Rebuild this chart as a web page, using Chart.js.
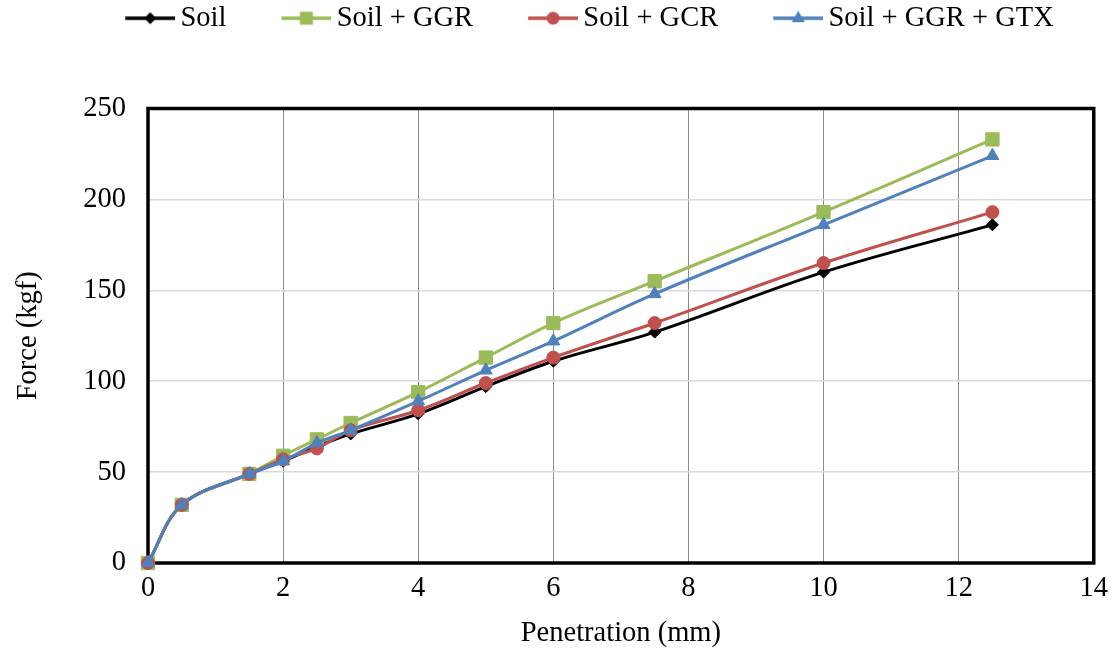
<!DOCTYPE html>
<html>
<head>
<meta charset="utf-8">
<script src="https://cdn.jsdelivr.net/npm/chart.js@4"></script>
<style>
  html, body { margin: 0; padding: 0; background: #fff; }
  #wrap { width: 1116px; height: 654px; }
</style>
</head>
<body>
<div id="wrap"><canvas id="cbr"></canvas></div>
<script>
// Penetration (mm) and force (kgf)
const penetration = [0, 0.5, 1.5, 2, 2.5, 3, 4, 5, 6, 7.5, 10, 12.5];
const soil       = [0, 32, 49, 56, 64, 71, 82, 97, 111, 127, 160, 186];
const soilGGR    = [0, 32, 49, 59, 68, 77, 94, 113, 132, 155, 193, 233];
const soilGCR    = [0, 32, 49, 57, 63, 73, 84, 99, 113, 132, 165, 193];
const soilGGRGTX = [0, 32, 49, 56, 66, 73, 89, 106, 122, 148, 186, 224];
const seriesNames = ['Soil', 'Soil + GGR', 'Soil + GCR', 'Soil + GGR + GTX'];

const FONT = { family: '"Liberation Serif", "Times New Roman", serif', size: 28.5 };

function pts(ys) {
  return penetration.map((x, i) => ({ x: x, y: ys[i] }));
}

// legend key: short line with the marker in the middle
function legendKey(color, style) {
  const c = document.createElement('canvas');
  c.width = 110; c.height = 20;
  const g = c.getContext('2d');
  const x0 = 60, x1 = 110, cx = 85, cy = 10;
  g.strokeStyle = color; g.fillStyle = color; g.lineWidth = 3.5;
  g.beginPath(); g.moveTo(x0, cy); g.lineTo(x1, cy); g.stroke();
  g.beginPath();
  if (style === 'rectRot') {
    g.moveTo(cx - 6, cy); g.lineTo(cx, cy - 6); g.lineTo(cx + 6, cy); g.lineTo(cx, cy + 6);
  } else if (style === 'rect') {
    g.rect(cx - 6.5, cy - 6.5, 13, 13);
  } else if (style === 'circle') {
    g.arc(cx, cy, 6.5, 0, Math.PI * 2);
  } else {
    g.moveTo(cx, cy - 7.5); g.lineTo(cx + 6.5, cy + 4); g.lineTo(cx - 6.5, cy + 4);
  }
  g.closePath(); g.fill();
  return c;
}

const colors = ['#000000', '#9BBB59', '#C0504D', '#4F81BD'];
const styles = ['rectRot', 'rect', 'circle', 'triangle'];
const radii = [6, 9.4, 6.5, 7.5];
const values = [soil, soilGGR, soilGCR, soilGGRGTX];
const keys = colors.map((c, i) => legendKey(c, styles[i]));

const datasets = values.map((v, i) => ({
  label: seriesNames[i],
  data: pts(v),
  borderColor: colors[i],
  backgroundColor: colors[i],
  borderWidth: 3,
  pointStyle: styles[i],
  pointRadius: radii[i],
  pointBorderWidth: 1,
  pointBorderColor: colors[i],
  pointBackgroundColor: colors[i],
  tension: 0.35,
  clip: false,
  order: 4 - i
}));

const frame = {
  id: 'frame',
  beforeInit(chart) {
    const fit = chart.legend.fit;
    chart.legend.fit = function () { fit.call(this); this.height += 66; };
  },
  beforeDatasetsDraw(chart) {
    const a = chart.chartArea, ctx = chart.ctx;
    ctx.save();
    ctx.strokeStyle = '#000'; ctx.lineWidth = 3.5;
    ctx.strokeRect(a.left, a.top, a.right - a.left, a.bottom - a.top);
    ctx.restore();
  }
};

new Chart(document.getElementById('cbr'), {
  type: 'line',
  data: { datasets: datasets },
  options: {
    responsive: true,
    maintainAspectRatio: false,
    animation: false,
    events: [],
    layout: { padding: { left: 32, right: 20, top: 0, bottom: 0 } },
    plugins: {
      tooltip: { enabled: false },
      legend: {
        position: 'top',
        labels: {
          usePointStyle: true,
          pointStyleWidth: 92,
          padding: 4,
          color: '#000',
          font: FONT,
          sort: (a, b) => a.datasetIndex - b.datasetIndex,
          generateLabels(chart) {
            const items = Chart.defaults.plugins.legend.labels.generateLabels(chart);
            items.forEach(it => { it.pointStyle = keys[it.datasetIndex]; });
            return items;
          }
        }
      }
    },
    scales: {
      x: {
        type: 'linear',
        min: 0, max: 14,
        border: { display: false },
        grid: { color: '#8c8c8c', lineWidth: 1, drawTicks: false },
        ticks: { stepSize: 2, color: '#000', font: FONT, padding: 8, maxRotation: 0 },
        title: { display: true, text: 'Penetration (mm)', color: '#000', font: FONT, padding: { top: 0, bottom: 3 } },
        afterFit(s) { s.height = 91; }
      },
      y: {
        min: 0, max: 250,
        border: { display: false },
        grid: { color: '#d9d9d9', lineWidth: 1.5, drawTicks: false },
        ticks: { stepSize: 50, color: '#000', font: FONT, padding: 22 },
        title: { display: true, text: 'Force (kgf)', color: '#000', font: FONT, padding: { top: -21, bottom: 0 } },
        afterFit(s) { s.width = 116; }
      }
    }
  },
  plugins: [frame]
});
</script>
</body>
</html>
